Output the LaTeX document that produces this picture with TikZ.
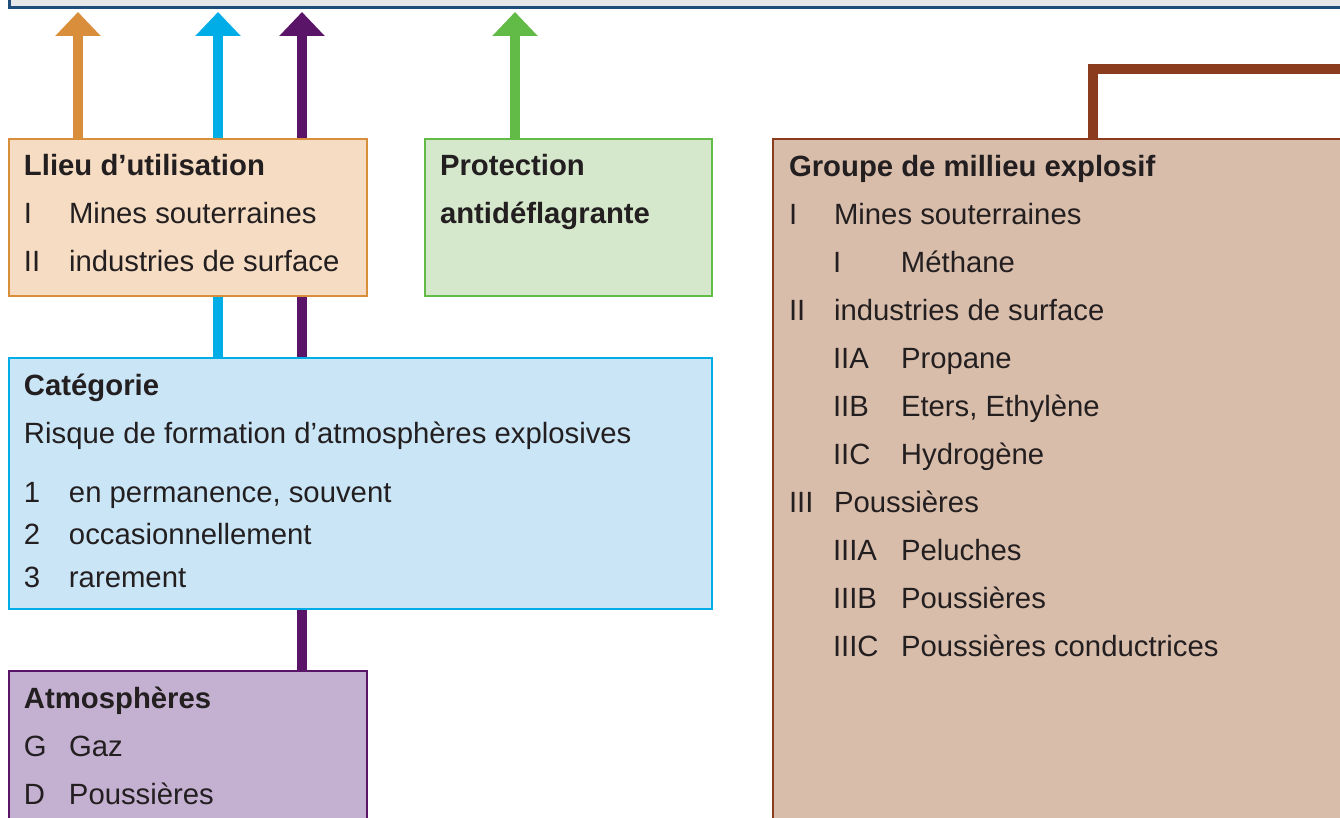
\documentclass[tikz,border=0pt]{standalone}
\usepackage{fontspec}
\setmainfont{Liberation Sans}
\usetikzlibrary{positioning, arrows.meta, backgrounds}

\definecolor{grisclair}{HTML}{E6E7E8}
\definecolor{bleufonce}{HTML}{1F4E7A}
\definecolor{orangefonce}{HTML}{D98E3B}
\definecolor{orangeclair}{HTML}{F5DCC2}
\definecolor{cyanfonce}{HTML}{00ADE6}
\definecolor{cyanclair}{HTML}{C9E5F6}
\definecolor{violetfonce}{HTML}{5B1568}
\definecolor{violetclair}{HTML}{C4B1D2}
\definecolor{vertfonce}{HTML}{62BB46}
\definecolor{vertclair}{HTML}{D6E8CC}
\definecolor{brunfonce}{HTML}{8B3B1E}
\definecolor{brunclair}{HTML}{D9BDAB}
\definecolor{textgris}{HTML}{231F20}

\newcommand{\haut}{\rule{0pt}{12pt}}
\newcommand{\entree}[2]{\makebox[22.5pt][l]{#1}#2}
\newcommand{\sousentree}[2]{\hspace*{22pt}\makebox[34pt][l]{#1}#2}

\begin{document}
\begin{tikzpicture}[x=0.5pt, y=-0.5pt,
    box/.style={rectangle, draw, line width=1pt, anchor=north west, inner sep=0pt},
    txt/.style={inner sep=0pt, outer sep=0pt, align=left, text=textgris, font=\fontsize{14.65}{24}\selectfont},
    arr/.style={line width=5pt, -{Triangle[width=22pt, length=12pt]}, shorten >=1.5pt}]

        \useasboundingbox (0,0) rectangle (1340,818);

        % Nodes
        \node (marquage) [box, draw=bleufonce, fill=grisclair, line width=1.5pt, minimum width=676pt, minimum height=30pt, anchor=south west] at (8,9) {};

        \node (lieu) [box, draw=orangefonce, fill=orangeclair, minimum width=179pt, minimum height=78.5pt] at (8,138) {};
        \node (prot) [box, draw=vertfonce, fill=vertclair, minimum width=143.5pt, minimum height=78.5pt] at (424,138) {};
        \node (groupe) [box, draw=brunfonce, fill=brunclair, minimum width=300pt, minimum height=360pt] at (772,138) {};
        \node (cat) [box, draw=cyanfonce, fill=cyanclair, minimum width=351.5pt, minimum height=125.5pt] at (8,357) {};
        \node (atmo) [box, draw=violetfonce, fill=violetclair, minimum width=179pt, minimum height=100pt] at (8,670) {};

        % Texts
        \node (lieu-t) [txt, below right=7pt and 8pt of lieu.north west]
                    {\haut\textbf{Llieu d’utilisation}\\
                    \entree{I}{Mines souterraines}\\
                    \entree{II}{industries de surface}};

        \node (prot-t) [txt, below right=7pt and 8pt of prot.north west]
                    {\haut\textbf{Protection}\\
                    \textbf{antidéflagrante}};

        \node (groupe-t) [txt, below right=7pt and 8.5pt of groupe.north west]
                    {\haut\textbf{Groupe de millieu explosif}\\
                    \entree{I}{Mines souterraines}\\
                    \sousentree{I}{Méthane}\\
                    \entree{II}{industries de surface}\\
                    \sousentree{IIA}{Propane}\\
                    \sousentree{IIB}{Eters, Ethylène}\\
                    \sousentree{IIC}{Hydrogène}\\
                    \entree{III}{Poussières}\\
                    \sousentree{IIIA}{Peluches}\\
                    \sousentree{IIIB}{Poussières}\\
                    \sousentree{IIIC}{Poussières conductrices}};

        \node (cat-t) [txt, below right=7pt and 8pt of cat.north west]
                    {\haut\textbf{Catégorie}\\
                    Risque de formation d’atmosphères explosives\\[5.5pt]
                    \entree{1}{en permanence, souvent}\\[-2.5pt]
                    \entree{2}{occasionnellement}\\[-3pt]
                    \entree{3}{rarement}};

        \node (atmo-t) [txt, below right=7pt and 8pt of atmo.north west]
                    {\haut\textbf{Atmosphères}\\
                    \entree{G}{Gaz}\\
                    \entree{D}{Poussières}};

        % Arrows
        \coordinate (xo) at (78,0);
        \coordinate (xc) at (218,0);
        \coordinate (xv) at (302,0);
        \coordinate (xg) at (515,0);
        \coordinate (xb) at (1093,0);
        \coordinate (bout) at (1345,69);

        \begin{scope}[on background layer]
        \draw[arr, orangefonce] (lieu.north -| xo) -- (marquage.south -| xo);
        \draw[arr, cyanfonce] (cat.north -| xc) -- (marquage.south -| xc);
        \draw[arr, violetfonce] (atmo.north -| xv) -- (marquage.south -| xv);
        \draw[arr, vertfonce] (prot.north -| xg) -- (marquage.south -| xg);
        \draw[line width=5pt, brunfonce] (groupe.north -| xb) |- (bout);
        \end{scope}

    \end{tikzpicture}
\end{document}
